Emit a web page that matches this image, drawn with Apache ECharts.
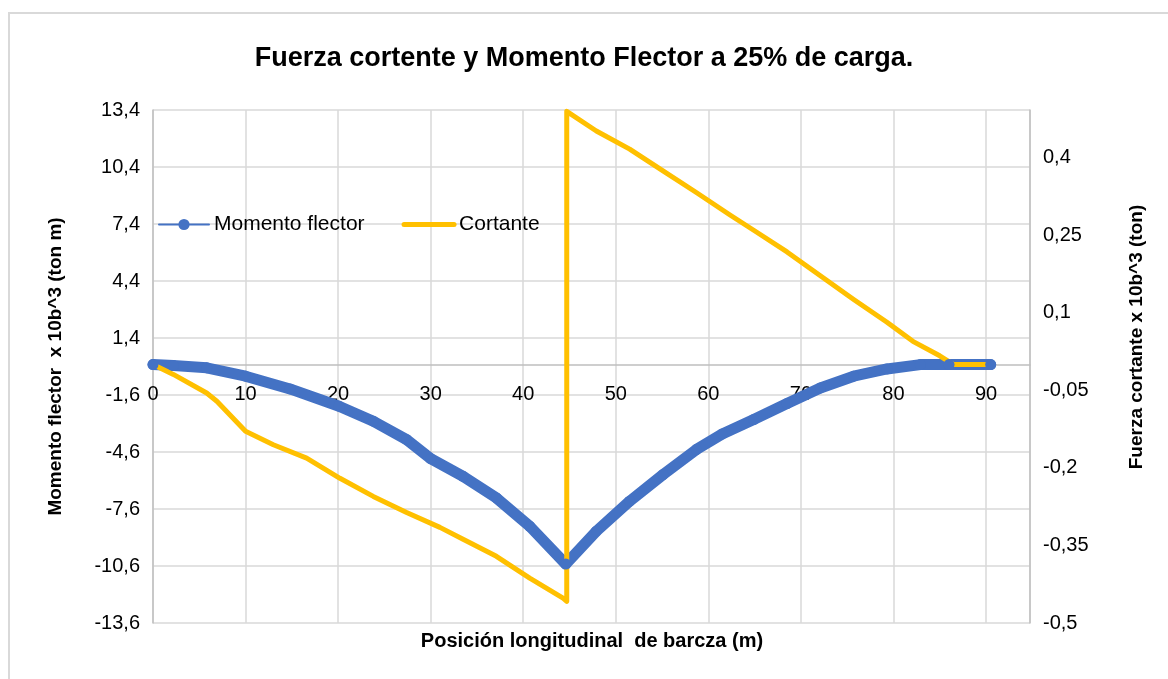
<!DOCTYPE html>
<html>
<head>
<meta charset="utf-8">
<script src="https://cdn.jsdelivr.net/npm/echarts@6/dist/echarts.min.js"></script>
<style>
  html, body { margin: 0; padding: 0; background: #fff; }
  #frame { position: absolute; left: 8px; top: 12px; width: 1200px; height: 700px;
           border-left: 2px solid #d9d9d9; border-top: 2px solid #d9d9d9; }
  #chart { position: absolute; left: 0; top: 0; width: 1168px; height: 679px; }
</style>
</head>
<body>
<div id="frame"></div>
<div id="chart"></div>
<script>
// Momento flector (left axis, x 10^3 ton m)
const momX = [0, 2.2, 5.8, 10, 14.8, 20.1, 23.8, 27.4, 30, 33.5, 37.1, 40.7, 44.6, 47.9, 51.5, 55.1, 58.7, 61.5, 64.9, 68.5, 72.1, 75.7, 79.3, 82.9, 86, 90.5]
const momY = [0, -0.05, -0.17, -0.61, -1.28, -2.19, -2.98, -3.95, -4.95, -5.88, -7.02, -8.51, -10.5, -8.77, -7.19, -5.79, -4.47, -3.65, -2.89, -2.05, -1.23, -0.61, -0.23, 0, 0, 0]

// Cortante (right axis, x 10^3 ton)
const corX = [0, 2.2, 5.8, 6.9, 10, 13, 16.6, 20.2, 23.8, 27.4, 31, 33.5, 37.1, 40.7, 44.3, 44.7, 44.7, 47.9, 51.5, 55.1, 58.7, 62.3, 64.9, 68.5, 72.1, 75.7, 79.3, 82.1, 85, 86.5, 90.6]
const corY = [0, -0.019, -0.055, -0.071, -0.129, -0.155, -0.181, -0.22, -0.255, -0.286, -0.315, -0.338, -0.371, -0.413, -0.452, -0.458, 0.49, 0.452, 0.417, 0.375, 0.333, 0.29, 0.26, 0.218, 0.172, 0.126, 0.082, 0.045, 0.017, 0, 0]

const momData = momX.map((x, i) => [x, momY[i]])
const corData = corX.map((x, i) => [x, corY[i]])

const comma = v => String(v).replace('.', ',')
const FONT = 'Liberation Sans, Arial, sans-serif'

const chart = echarts.init(document.getElementById('chart'))
chart.setOption({
    animation: false,
    title: {
        text: 'Fuerza cortente y Momento Flector a 25% de carga.',
        left: 'center',
        top: 45,
        padding: 0,
        textStyle: { fontFamily: FONT, fontSize: 27, fontWeight: 'bold', color: '#000' },
    },
    graphic: [
        {
            type: 'text',
            x: 592,
            y: 641,
            style: {
                text: 'Posición longitudinal  de barcza (m)',
                textAlign: 'center',
                textVerticalAlign: 'middle',
                font: 'bold 20px ' + FONT,
                fill: '#000',
            },
        },
        {
            type: 'text',
            x: 1137,
            y: 337,
            rotation: Math.PI / 2,
            style: {
                text: 'Fuerza cortante x 10b^3 (ton)',
                textAlign: 'center',
                textVerticalAlign: 'middle',
                font: 'bold 19px ' + FONT,
                fill: '#000',
            },
        },
    ],
    legend: {
        left: 153,
        top: 209,
        itemWidth: 50,
        itemHeight: 14,
        itemGap: 37,
        textStyle: { fontFamily: FONT, fontSize: 21, color: '#000' },
        data: [
            { name: 'Momento flector', lineStyle: { width: 2 } },
            { name: 'Cortante', lineStyle: { width: 5 }, itemStyle: { opacity: 0 } },
        ],
    },
    grid: { left: 153, right: 138, top: 110, bottom: 56 },
    xAxis: {
        type: 'value',
        min: 0,
        max: 94.75,
        interval: 10,
        offset: -258,
        axisLine: { onZero: false, lineStyle: { color: '#bfbfbf', width: 1.5 } },
        axisTick: { show: false },
        splitLine: { show: true, lineStyle: { color: '#d9d9d9', width: 1.5 } },
        axisLabel: {
            showMaxLabel: false,
            margin: 19,
            fontFamily: FONT,
            fontSize: 20,
            color: '#000',
        },
    },
    yAxis: [
        {
            type: 'value',
            min: -13.6,
            max: 13.4,
            interval: 3,
            name: 'Momento flector  x 10b^3 (ton m)',
            nameLocation: 'middle',
            nameRotate: 90,
            nameGap: 88,
            nameTextStyle: { fontFamily: FONT, fontSize: 19, fontWeight: 'bold', color: '#000' },
            axisLine: { show: true, lineStyle: { color: '#bfbfbf', width: 1.5 } },
            axisTick: { show: false },
            splitLine: { show: true, lineStyle: { color: '#d9d9d9', width: 1.5 } },
            axisLabel: { margin: 13, fontFamily: FONT, fontSize: 20, color: '#000', formatter: comma },
        },
        {
            type: 'value',
            min: -0.5,
            max: 0.49265,
            interval: 0.15,
            axisLine: { show: true, lineStyle: { color: '#bfbfbf', width: 1.5 } },
            axisTick: { show: false },
            splitLine: { show: false },
            axisLabel: { margin: 13, showMaxLabel: false, fontFamily: FONT, fontSize: 20, color: '#000', formatter: comma },
        },
    ],
    series: [
        {
            name: 'Momento flector',
            type: 'line',
            yAxisIndex: 0,
            data: momData,
            symbol: 'circle',
            symbolSize: 11,
            showAllSymbol: true,
            itemStyle: { color: '#4472C4' },
            lineStyle: { color: '#4472C4', width: 11, cap: 'round', join: 'round' },
        },
        {
            name: 'Cortante',
            type: 'line',
            yAxisIndex: 1,
            data: corData,
            symbol: 'none',
            itemStyle: { color: '#FFC000' },
            lineStyle: { color: '#FFC000', width: 5, cap: 'round', join: 'round' },
        },
    ],
})
</script>
</body>
</html>
